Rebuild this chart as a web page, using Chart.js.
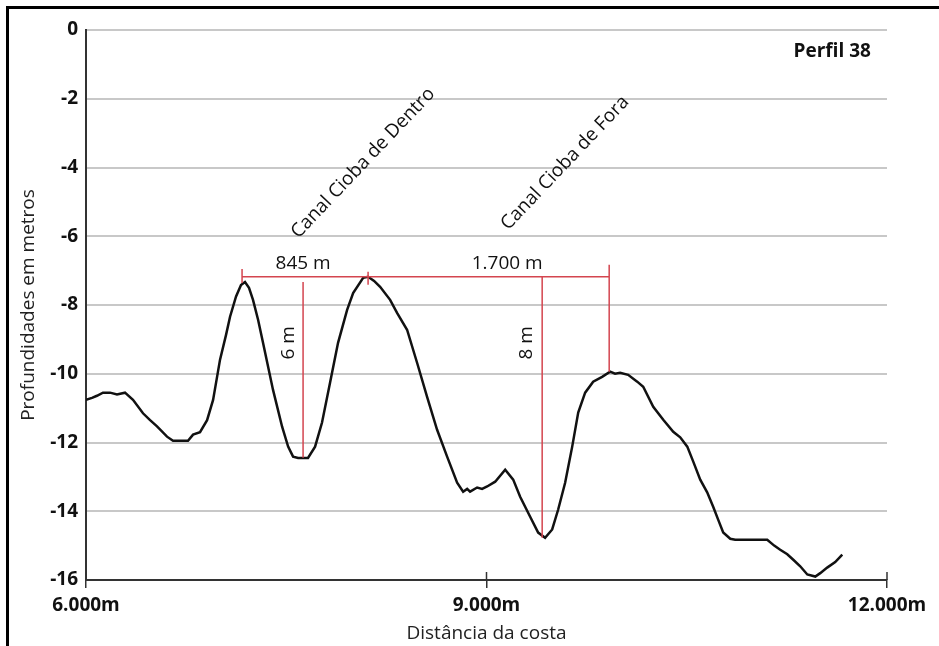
<!DOCTYPE html>
<html>
<head>
<meta charset="utf-8">
<title>Perfil 38</title>
<script src="https://cdn.jsdelivr.net/npm/chart.js@4"></script>
<style>
  body { margin: 0; background: #fff; }
  #frame { position: absolute; left: 6px; top: 6px; width: 933px; height: 640px;
           border-left: 3px solid #000; border-top: 3px solid #000; }
  #wrap { position: absolute; left: 0; top: 0; width: 939px; height: 646px; }
</style>
</head>
<body>
<div id="frame"></div>
<div id="wrap"><canvas id="perfilCanvas" width="939" height="646"></canvas></div>
<script>
/* Profile data: distance from the coast (m) and depth (m) */
var distances = [6000, 6045, 6082, 6127, 6180, 6232, 6292, 6352, 6427, 6480,
    6532, 6607, 6652, 6764, 6802, 6854, 6907, 6952, 7004, 7049,
    7079, 7124, 7161, 7191, 7221, 7251, 7289, 7326, 7401, 7469,
    7514, 7551, 7589, 7663, 7716, 7768, 7828, 7888, 7956, 8001,
    8076, 8113, 8158, 8203, 8278, 8330, 8405, 8480, 8555, 8630,
    8705, 8780, 8825, 8855, 8877, 8930, 8967, 9005, 9065, 9140,
    9200, 9252, 9327, 9387, 9439, 9492, 9537, 9589, 9642, 9687,
    9739, 9799, 9866, 9926, 9963, 10001, 10061, 10129, 10174, 10249,
    10324, 10399, 10451, 10504, 10548, 10601, 10653, 10698, 10736, 10773,
    10826, 10863, 11103, 11155, 11200, 11253, 11298, 11350, 11403, 11463,
    11500, 11552, 11612, 11665];
var depths = [-10.76, -10.70, -10.64, -10.55, -10.55, -10.60, -10.55, -10.76, -11.15, -11.35,
    -11.53, -11.83, -11.95, -11.95, -11.77, -11.70, -11.35, -10.76, -9.59, -8.87,
    -8.34, -7.75, -7.42, -7.33, -7.50, -7.85, -8.43, -9.10, -10.47, -11.54,
    -12.12, -12.41, -12.45, -12.45, -12.12, -11.42, -10.26, -9.10, -8.14, -7.65,
    -7.21, -7.18, -7.30, -7.47, -7.85, -8.23, -8.72, -9.68, -10.67, -11.63,
    -12.41, -13.17, -13.43, -13.35, -13.43, -13.31, -13.35, -13.28, -13.14, -12.79,
    -13.08, -13.58, -14.16, -14.62, -14.77, -14.53, -13.95, -13.17, -12.12, -11.13,
    -10.55, -10.23, -10.09, -9.94, -10.00, -9.97, -10.03, -10.23, -10.38, -10.96,
    -11.34, -11.69, -11.85, -12.12, -12.55, -13.08, -13.45, -13.87, -14.25, -14.62,
    -14.80, -14.83, -14.83, -15.00, -15.12, -15.25, -15.41, -15.60, -15.84, -15.90,
    -15.80, -15.64, -15.48, -15.26];

/* Axis ticks */
var xTicks = [6000, 9000, 12000];
var yTicks = [0, -2, -4, -6, -8, -10, -12, -14, -16];

/* Annotations (in data units) */
var channelNames = ['Canal Cioba de Dentro', 'Canal Cioba de Fora'];
var channelAt = [[8076, -3.87], [9589, -3.87]];
var spanLabels = ['845 m', '1.700 m'];
var spanFrom = [7169, 8113];
var spanTo = [8113, 9919];
var spanDepth = -7.18;
var spanLabelX = [7626, 9155];
var heightLabels = ['6 m', '8 m'];
var heightX = [7626, 9417];
var heightTop = [-7.33, -7.18];
var heightBottom = [-12.44, -14.77];
var heightLabelX = [7514, 9304];
var profileName = 'Perfil 38';

var FONT = "'Open Sans', sans-serif";
Chart.defaults.font.family = FONT;
Chart.defaults.color = '#111';

/* Red dimension lines, channel names and the profile name */
var annotations = {
    id: 'annotations',
    afterDatasetsDraw: function (chart) {
        var ctx = chart.ctx;
        var xs = chart.scales.x;
        var ys = chart.scales.y;
        var X = function (v) { return xs.getPixelForValue(v); };
        var Y = function (v) { return ys.getPixelForValue(v); };
        ctx.save();

        // tick marks crossing the distance axis
        ctx.strokeStyle = '#333';
        ctx.lineWidth = 1.5;
        xTicks.forEach(function (t) {
            ctx.beginPath();
            ctx.moveTo(X(t), chart.chartArea.bottom - 8);
            ctx.lineTo(X(t), chart.chartArea.bottom);
            ctx.stroke();
        });

        ctx.strokeStyle = '#d4454f';
        ctx.lineWidth = 1.5;
        // horizontal span line
        ctx.beginPath();
        ctx.moveTo(X(spanFrom[0]), Y(spanDepth));
        ctx.lineTo(X(spanTo[1]), Y(spanDepth));
        // small end ticks
        ctx.moveTo(X(spanFrom[0]), Y(-6.95));
        ctx.lineTo(X(spanFrom[0]), Y(-7.36));
        ctx.moveTo(X(spanTo[0]), Y(-7.03));
        ctx.lineTo(X(spanTo[0]), Y(-7.41));
        ctx.moveTo(X(spanTo[1]), Y(-6.83));
        ctx.lineTo(X(spanTo[1]), Y(-9.94));
        // depth verticals
        for (var i = 0; i < heightX.length; i++) {
            ctx.moveTo(X(heightX[i]), Y(heightTop[i]));
            ctx.lineTo(X(heightX[i]), Y(heightBottom[i]));
        }
        ctx.stroke();

        ctx.fillStyle = '#111';
        ctx.font = '19px ' + FONT;
        ctx.textAlign = 'center';
        ctx.textBaseline = 'middle';
        for (var j = 0; j < spanLabels.length; j++) {
            ctx.fillText(spanLabels[j], X(spanLabelX[j]), Y(spanDepth) - 13);
        }
        for (var k = 0; k < heightLabels.length; k++) {
            ctx.save();
            ctx.translate(X(heightLabelX[k]), Y(-9.1));
            ctx.rotate(-Math.PI / 2);
            ctx.fillText(heightLabels[k], 0, 0);
            ctx.restore();
        }
        for (var c = 0; c < channelNames.length; c++) {
            ctx.save();
            ctx.translate(X(channelAt[c][0]), Y(channelAt[c][1]));
            ctx.rotate(-46.5 * Math.PI / 180);
            ctx.fillText(channelNames[c], 0, 0);
            ctx.restore();
        }

        ctx.font = 'bold 19px ' + FONT;
        ctx.fillText(profileName, X(11590), Y(-0.62));
        ctx.restore();
    }
};

var ctx = document.getElementById('perfilCanvas').getContext('2d');
var chart = new Chart(ctx, {
    type: 'line',
    data: {
        datasets: [{
            data: distances.map(function (d, i) { return { x: d, y: depths[i] }; }),
            borderColor: '#111',
            borderWidth: 2.5,
            pointRadius: 0,
            tension: 0,
            fill: false
        }]
    },
    options: {
        responsive: false,
        animation: false,
        layout: { padding: { top: 30, right: 52, left: 0, bottom: 0 } },
        plugins: { legend: { display: false }, tooltip: { enabled: false } },
        scales: {
            x: {
                type: 'linear',
                min: 6000,
                max: 12000,
                afterBuildTicks: function (scale) {
                    scale.ticks = xTicks.map(function (v) { return { value: v }; });
                },
                afterFit: function (scale) { scale.height = 66; },
                ticks: {
                    maxRotation: 0,
                    padding: 6,
                    color: '#111',
                    font: { size: 19, weight: 'bold' },
                    callback: function (v) { return (v / 1000) + '.000m'; }
                },
                grid: { drawOnChartArea: false, drawTicks: true, tickLength: 8, color: '#333', lineWidth: 1.5 },
                border: { color: '#333', width: 2 },
                title: {
                    display: true,
                    text: 'Distância da costa',
                    color: '#222',
                    font: { size: 19 },
                    padding: { top: 0, bottom: 1 }
                }
            },
            y: {
                min: -16,
                max: 0,
                afterBuildTicks: function (scale) {
                    scale.ticks = yTicks.map(function (v) { return { value: v }; });
                },
                afterFit: function (scale) { scale.width = 86; },
                ticks: {
                    padding: 8,
                    color: '#111',
                    font: { size: 19, weight: 'bold' },
                    callback: function (v) { return String(v); }
                },
                grid: { color: '#c8c8c8', lineWidth: 2, drawTicks: false },
                border: { color: '#333', width: 2 },
                title: {
                    display: true,
                    text: 'Profundidades em metros',
                    color: '#222',
                    font: { size: 19 },
                    padding: { top: 17, bottom: 0 }
                }
            }
        }
    },
    plugins: [annotations]
});
</script>
</body>
</html>
